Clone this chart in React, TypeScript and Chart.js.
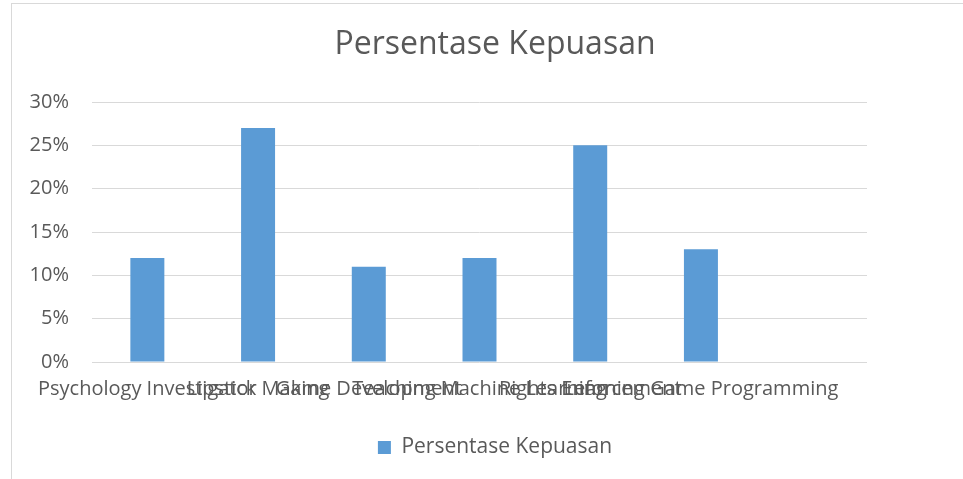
import React, { useEffect, useRef } from "react";
import { Chart, registerables } from "chart.js";

Chart.register(...registerables);

const categories = [
  "Psychology Investigator",
  "Lipstick Making",
  "Game Development",
  "Teaching Machine Learning",
  "Rights Enforcement",
  "Learning Game Programming",
  "",
];
const seriesName = "Persentase Kepuasan";
const values = [12, 27, 11, 12, 25, 13, null];
const yTicks = [0, 5, 10, 15, 20, 25, 30];

const TEXT = "#595959";
const GRID = "#d9d9d9";
const BAR = "#5b9bd5";
const FONT = "'Open Sans', 'Noto Sans', sans-serif";
const CANVAS_W = 990;

export default function App() {
  const ref = useRef<HTMLCanvasElement | null>(null);

  useEffect(() => {
    document.body.style.margin = "0";
    const canvas = ref.current;
    if (!canvas) return;

    const frame = {
      id: "frame",
      beforeDraw(chart: any) {
        const ctx = chart.ctx;
        ctx.save();
        ctx.fillStyle = "#ffffff";
        ctx.fillRect(0, 0, chart.width, chart.height);
        ctx.strokeStyle = GRID;
        ctx.lineWidth = 1;
        ctx.strokeRect(11.5, 3.5, 3000, 3000);
        ctx.restore();
      },
    };

    const chart = new Chart(canvas, {
      type: "bar",
      data: {
        labels: categories,
        datasets: [
          {
            label: seriesName,
            data: values as any,
            backgroundColor: BAR,
            borderWidth: 0,
            barPercentage: 0.307,
            categoryPercentage: 1,
          },
        ],
      },
      options: {
        animation: false,
        responsive: false,
        devicePixelRatio: 1,
        layout: { padding: { left: 0, right: 0, top: 0, bottom: 11 } },
        plugins: {
          title: {
            display: true,
            text: seriesName,
            color: TEXT,
            font: { family: FONT, size: 32, weight: "normal" as any, lineHeight: 1.2 },
            padding: { top: 26, bottom: 37.6 },
          },
          legend: {
            display: true,
            position: "bottom",
            labels: {
              color: TEXT,
              font: { family: FONT, size: 21 },
              boxWidth: 13,
              boxHeight: 13,
              padding: 10,
            },
          },
          tooltip: { enabled: false },
        },
        scales: {
          x: {
            grid: { display: false },
            border: { display: false },
            ticks: {
              color: TEXT,
              font: { family: FONT, size: 20 },
              maxRotation: 0,
              minRotation: 0,
              autoSkip: false,
              padding: 7,
            },
            afterFit(s: any) {
              s.height = 65;
            },
          },
          y: {
            min: 0,
            max: 30,
            afterBuildTicks(s: any) {
              s.ticks = yTicks.map((v) => ({ value: v }));
            },
            grid: { color: GRID, lineWidth: 1, drawTicks: false },
            border: { display: false },
            ticks: {
              color: TEXT,
              font: { family: FONT, size: 20 },
              padding: 23,
              callback: (v: any) => `${v}%`,
            },
            afterFit(s: any) {
              s.width = 92;
            },
          },
          y2: {
            type: "linear",
            position: "right",
            display: true,
            grid: { display: false, drawTicks: false },
            border: { display: false },
            ticks: { display: false },
            afterFit(s: any) {
              s.width = CANVAS_W - 867;
            },
          },
        },
      },
      plugins: [frame],
    });

    return () => chart.destroy();
  }, []);

  return (
    <div
      style={{
        position: "absolute",
        left: 0,
        top: 0,
        width: 963,
        height: 479,
        overflow: "hidden",
        background: "#fff",
      }}
    >
      <canvas ref={ref} width={CANVAS_W} height={479} style={{ display: "block" }} />
    </div>
  );
}
